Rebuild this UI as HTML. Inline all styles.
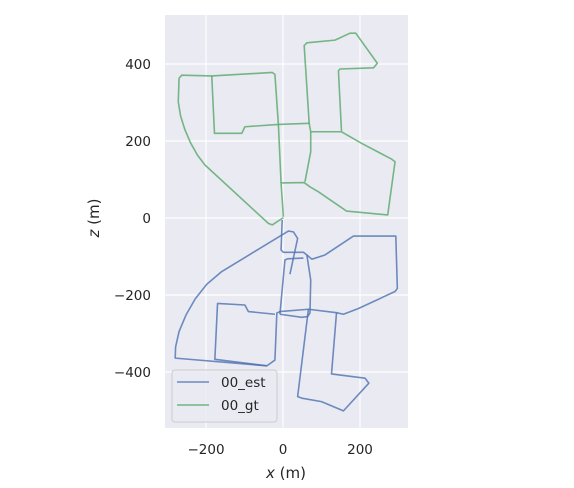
<!DOCTYPE html>
<html><head><meta charset="utf-8"><style>
body{margin:0;background:#fff;}
svg{display:block;font-family:"DejaVu Sans","Liberation Sans",sans-serif;}
</style></head><body>
<svg id="chart" width="574" height="488">
<rect x="165" y="15" width="243" height="413" fill="#EAEAF2"/>
<g id="grid"></g>
<g id="ticks"></g>
<g id="series"></g>
<text x="286" y="478" text-anchor="middle" font-size="15" fill="#262626"><tspan font-style="italic">x</tspan> (m)</text>
<text transform="translate(99,218) rotate(-90)" text-anchor="middle" font-size="15" fill="#262626"><tspan font-style="italic">z</tspan> (m)</text>
<g>
<rect x="172" y="370" width="105" height="52" rx="3" fill="#EAEAF2" fill-opacity="0.8" stroke="#cccccc"/>
<line x1="177" y1="382" x2="209" y2="382" stroke="#4C72B0" stroke-opacity="0.8" stroke-width="1.6"/>
<text x="221" y="387" font-size="13.5" fill="#262626">00_est</text>
<line x1="177" y1="405" x2="209" y2="405" stroke="#55A868" stroke-opacity="0.8" stroke-width="1.6"/>
<text x="221" y="410" font-size="13.5" fill="#262626">00_gt</text>
</g>
</svg>
<script>
const xTicks=[-200,0,200];
const zTicks=[-400,-200,0,200,400];
const gtPaths=[
[[1,3],[-5,91],[55,92],[70,81],[92,68],[165,18],[272,8],[291,146],[282,153],[204,194],[152,224],[72,224],[68,246],[55,448],[62,455],[135,462],[174,480],[189,480],[245,402],[235,390],[148,387],[144,382],[152,224]],
[[72,224],[72,172],[57,94]],
[[-5,91],[-12,243],[-21,373],[-28,378],[-185,369],[-263,371],[-270,363],[-272,302],[-266,265],[-255,230],[-240,195],[-222,163],[-203,138],[-38,-14],[-28,-18],[1,1]],
[[-12,243],[68,246]],
[[-185,369],[-178,220],[-107,220],[-99,237],[-12,243]]
];
const estPaths=[
[[-2,-5],[-5,-83],[1,-89],[53,-89],[62,-96],[72,-161],[70,-247],[64,-256],[49,-258],[-8,-250]],
[[62,-96],[75,-107],[109,-96],[183,-47],[293,-47],[297,-183],[291,-191],[196,-235],[157,-250],[139,-246],[66,-237],[-8,-243],[-16,-247],[-21,-369],[-42,-384],[-177,-367],[-170,-222],[-99,-226],[-90,-243],[-21,-250]],
[[-42,-384],[-280,-364],[-279,-335],[-270,-295],[-252,-252],[-228,-210],[-198,-172],[-159,-139],[14,-34],[27,-36],[38,-53],[18,-146]],
[[139,-246],[126,-405],[213,-416],[223,-429],[157,-501],[100,-477],[49,-468],[38,-464],[66,-237]],
[[-8,-250],[5,-109],[12,-106],[53,-104]]
];
const NS="http://www.w3.org/2000/svg";
const sx=v=>283+v*0.385, sz=v=>218-v*0.385;
const grid=document.getElementById('grid'),ticks=document.getElementById('ticks'),series=document.getElementById('series');
xTicks.forEach(t=>{
 const l=document.createElementNS(NS,'line');
 l.setAttribute('x1',sx(t));l.setAttribute('x2',sx(t));l.setAttribute('y1',15);l.setAttribute('y2',428);
 l.setAttribute('stroke','#fff');l.setAttribute('stroke-width','1.2');
 
 
 grid.appendChild(l);
 const tx=document.createElementNS(NS,'text');
 tx.setAttribute('x',sx(t));tx.setAttribute('y',454);tx.setAttribute('text-anchor','middle');
 tx.setAttribute('font-size','13.5');tx.setAttribute('fill','#262626');
 tx.textContent=t<0?'\u2212'+(-t):String(t);
 
 
 ticks.appendChild(tx);
});
zTicks.forEach(t=>{
 const l=document.createElementNS(NS,'line');
 l.setAttribute('x1',165);l.setAttribute('x2',408);l.setAttribute('y1',sz(t));l.setAttribute('y2',sz(t));
 l.setAttribute('stroke','#fff');l.setAttribute('stroke-width','1.2');
 
 
 grid.appendChild(l);
 const tx=document.createElementNS(NS,'text');
 tx.setAttribute('x',151);tx.setAttribute('y',sz(t)+5);tx.setAttribute('text-anchor','end');
 tx.setAttribute('font-size','13.5');tx.setAttribute('fill','#262626');
 tx.textContent=t<0?'\u2212'+(-t):String(t);
 
 
 ticks.appendChild(tx);
});
function draw(paths,color,name){
 paths.forEach(p=>{
  const pl=document.createElementNS(NS,'polyline');
  pl.setAttribute('points',p.map(q=>sx(q[0])+','+sz(q[1])).join(' '));
  pl.setAttribute('fill','none');pl.setAttribute('stroke',color);pl.setAttribute('stroke-opacity','0.8');
  pl.setAttribute('stroke-width','1.6');pl.setAttribute('stroke-linejoin','round');
  
  
  series.appendChild(pl);
 });
}
draw(gtPaths,'#55A868','gt-trajectory');
draw(estPaths,'#4C72B0','est-trajectory');
</script>
</body></html>
